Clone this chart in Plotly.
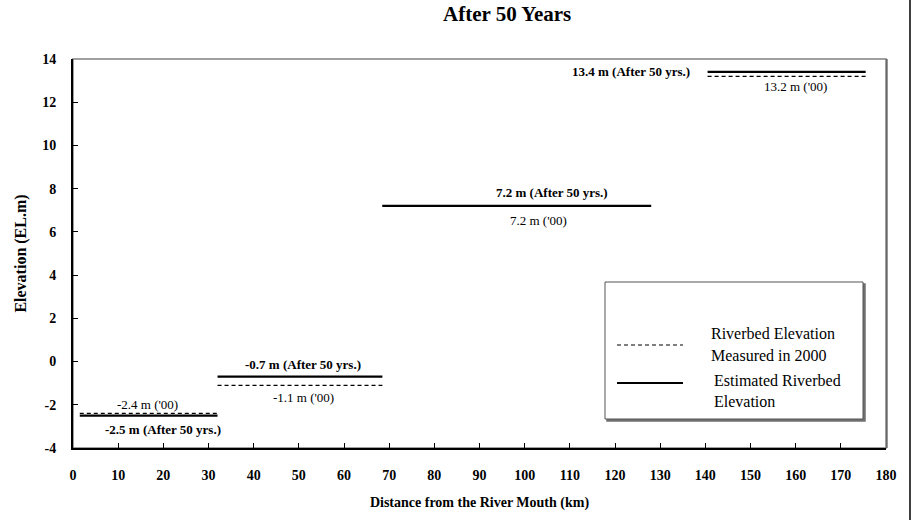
import plotly.graph_objects as go

# ---- data ----
seg_start_km = [1.5, 32, 68.5, 140.5]
seg_end_km = [32, 68.5, 128, 175.5]
elev_2000 = [-2.4, -1.1, 7.2, 13.2]
elev_50yr = [-2.5, -0.7, 7.2, 13.4]
x_ticks = list(range(0, 181, 10))
y_ticks = list(range(-4, 15, 2))
legend_lines_2000 = ["Riverbed Elevation", "Measured in 2000"]
legend_lines_50yr = ["Estimated Riverbed", "Elevation"]

FONT = "Liberation Serif, Times New Roman, serif"

# plot area in pixels
L, R, T, B = 73, 886, 59, 448
W, H = 919, 520


def px(xp):
    return (xp - L) / (R - L)


def py(yp):
    return (B - yp) / (B - T)


def seg_xy(vals):
    xs, ys = [], []
    for a, b, v in zip(seg_start_km, seg_end_km, vals):
        xs += [a, b, None]
        ys += [v, v, None]
    return xs, ys


fig = go.Figure()
x0, y0 = seg_xy(elev_2000)
x1, y1 = seg_xy(elev_50yr)
fig.add_trace(go.Scatter(x=x1, y=y1, mode="lines", name="Estimated Riverbed Elevation",
                         line=dict(color="black", width=2.2), showlegend=False))
fig.add_trace(go.Scatter(x=x0, y=y0, mode="lines", name="Riverbed Elevation Measured in 2000",
                         line=dict(color="black", width=1.2, dash="4px,3px"), showlegend=False))

ann = []
# value labels (text built from data)
lab_pos_2000 = [(16.5, 9), (51, -12), (103, -15), (160, -10)]
lab_pos_50 = [(20, -14, "center"), (51, 12, "center"), (106, 13, "center"), (137, 0, "right")]
for v, (xx, ys) in zip(elev_2000, lab_pos_2000):
    ann.append(dict(x=xx, y=v, xref="x", yref="y", text=f"{v} m ('00)", showarrow=False,
                    yshift=ys, yanchor="middle", font=dict(family=FONT, size=13, color="black")))
for v, (xx, ys, xa) in zip(elev_50yr, lab_pos_50):
    ann.append(dict(x=xx, y=v, xref="x", yref="y", text=f"<b>{v} m (After 50 yrs.)</b>",
                    showarrow=False, yshift=ys, xanchor=xa, yanchor="middle",
                    font=dict(family=FONT, size=13, color="black")))

# title
ann.append(dict(x=px(507), y=py(14), xref="paper", yref="paper", text="<b>After 50 Years</b>",
                showarrow=False, yanchor="middle", xanchor="center",
                font=dict(family=FONT, size=21, color="black")))
# legend texts
for txt, ypix in zip(legend_lines_2000, [333, 355]):
    ann.append(dict(x=px(709), y=py(ypix), xref="paper", yref="paper", xanchor="left",
                    yanchor="middle", text=txt, showarrow=False,
                    font=dict(family=FONT, size=16, color="black")))
for txt, ypix in zip(legend_lines_50yr, [380, 401]):
    ann.append(dict(x=px(712), y=py(ypix), xref="paper", yref="paper", xanchor="left",
                    yanchor="middle", text=txt, showarrow=False,
                    font=dict(family=FONT, size=16, color="black")))

shapes = []
# plot area border (top/right grey)
shapes.append(dict(type="rect", xref="paper", yref="paper", x0=0, y0=0, x1=1, y1=1,
                   line=dict(color="#808080", width=1.5), layer="below"))
shapes.append(dict(type="line", xref="paper", yref="paper", x0=px(887), x1=px(887), y0=0, y1=1,
                   line=dict(color="#333333", width=1)))
# legend box with shadow
shapes.append(dict(type="rect", xref="paper", yref="paper", x0=px(607), x1=px(865),
                   y0=py(421), y1=py(284), line=dict(color="#707070", width=1.5),
                   fillcolor="#707070"))
shapes.append(dict(type="rect", xref="paper", yref="paper", x0=px(605), x1=px(863),
                   y0=py(419), y1=py(282), line=dict(color="#555555", width=1),
                   fillcolor="white"))
shapes.append(dict(type="line", xref="paper", yref="paper", x0=px(617), x1=px(683),
                   y0=py(345), y1=py(345), line=dict(color="black", width=1.2, dash="4px,3px")))
shapes.append(dict(type="line", xref="paper", yref="paper", x0=px(617), x1=px(683),
                   y0=py(383), y1=py(383), line=dict(color="black", width=2.2)))
# page border on the right
shapes.append(dict(type="line", xref="paper", yref="paper", x0=px(910), x1=px(910),
                   y0=py(520), y1=py(0), line=dict(color="black", width=1.5)))

fig.update_layout(
    width=W, height=H,
    margin=dict(l=L, r=W - R, t=T, b=H - B, pad=0, autoexpand=False),
    paper_bgcolor="white", plot_bgcolor="white",
    font=dict(family=FONT, color="black"),
    showlegend=False,
    annotations=ann, shapes=shapes,
)
fig.update_xaxes(range=[0, 180], tickvals=x_ticks, ticktext=[str(t) for t in x_ticks],
                 ticks="inside", ticklen=5, tickwidth=1, automargin=False,
                 tickcolor="black", showline=True, linecolor="black", linewidth=2,
                 showgrid=False, zeroline=False, ticklabelstandoff=13,
                 tickfont=dict(family=FONT, size=14, color="black", weight="bold"),
                 title=dict(text="<b>Distance from the River Mouth (km)</b>", standoff=15,
                            font=dict(family=FONT, size=14, color="black")))
fig.update_yaxes(range=[-4, 14], tickvals=y_ticks, ticktext=[str(t) for t in y_ticks],
                 ticks="inside", ticklen=5, tickwidth=1, automargin=False,
                 tickcolor="black", showline=True, linecolor="black", linewidth=2,
                 showgrid=False, zeroline=False, ticklabelstandoff=12,
                 tickfont=dict(family=FONT, size=14, color="black", weight="bold"),
                 title=dict(text="<b>Elevation (EL.m)</b>", standoff=12,
                            font=dict(family=FONT, size=16, color="black")))

fig.write_html("out.html")
